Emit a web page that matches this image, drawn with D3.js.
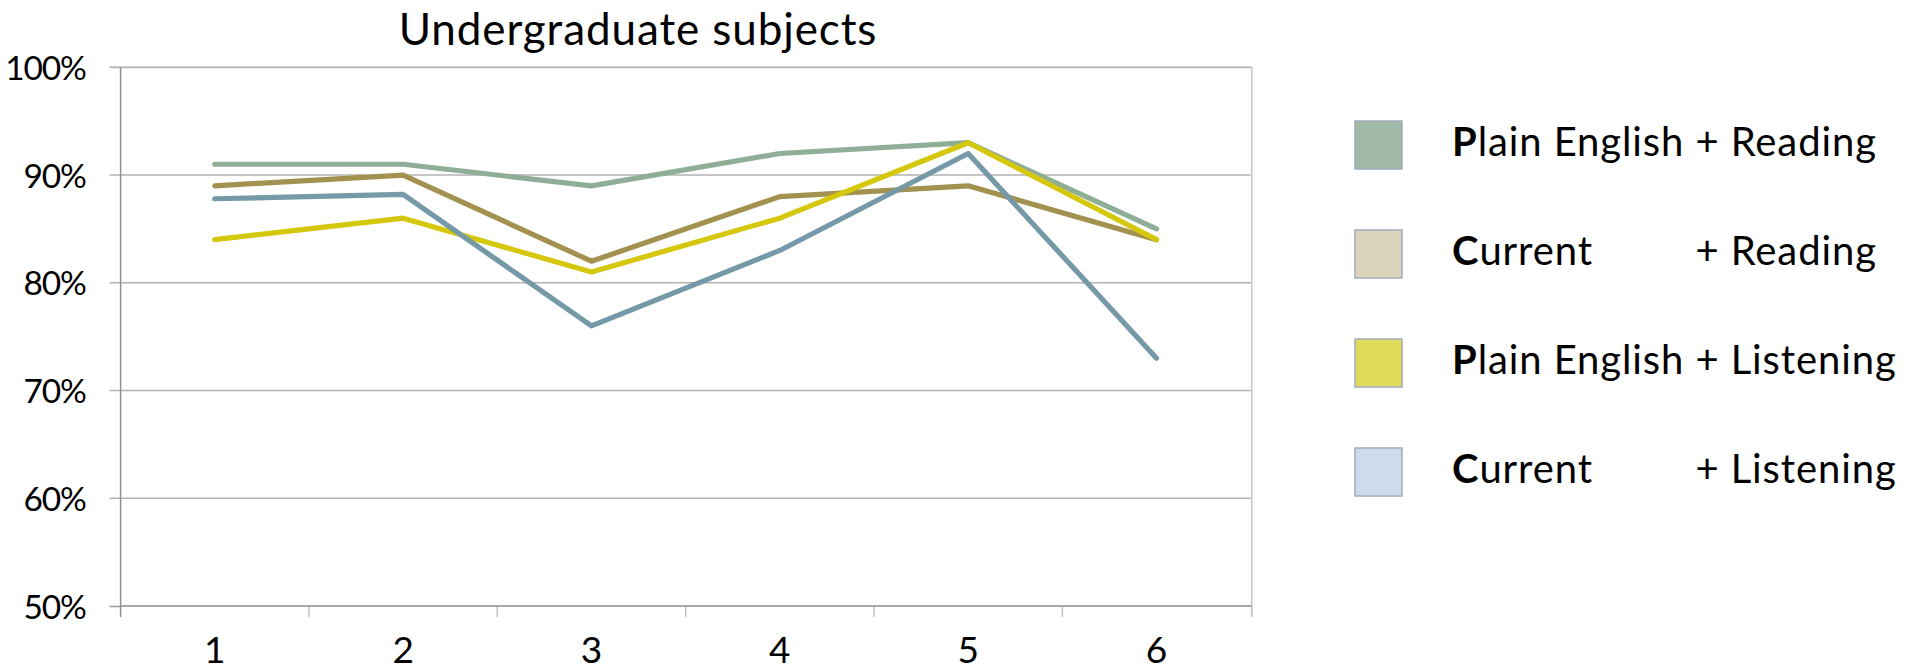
<!DOCTYPE html>
<html>
<head>
<meta charset="utf-8">
<script src="https://cdn.jsdelivr.net/npm/d3@7"></script>
<style>
  html, body { margin: 0; padding: 0; background: #ffffff; }
  svg { display: block; }
  text { font-family: Lato, "Open Sans", sans-serif; fill: #000; }
</style>
</head>
<body>
<svg id="chart" width="1916" height="670"></svg>
<script>
// Categories along the x axis
const categories = ["1", "2", "3", "4", "5", "6"];

// Series values (share correct, 0–1)
const plainReading   = [0.91, 0.91, 0.89, 0.92, 0.93, 0.85];
const currentReading = [0.89, 0.90, 0.82, 0.88, 0.89, 0.84];
const plainListening = [0.84, 0.86, 0.81, 0.86, 0.93, 0.84];
const currentListening = [0.878, 0.882, 0.76, 0.83, 0.92, 0.73];

// Y axis tick values
const yTicks = [0.5, 0.6, 0.7, 0.8, 0.9, 1.0];

// Legend text pieces
const legendInitial = ["P", "C", "P", "C"];
const legendRest = ["lain English", "urrent", "lain English", "urrent"];
const legendMode = ["+ Reading", "+ Reading", "+ Listening", "+ Listening"];

const seriesValues = [plainReading, currentReading, plainListening, currentListening];
const lineColors = ["#8fae97", "#a39150", "#d5c80c", "#7599a6"];
const swatchColors = ["#a0b8a6", "#dbd4bb", "#e0d95a", "#cddbed"];

const svg = d3.select("#chart");

const plot = { left: 120.6, right: 1250.7, top: 67.3, bottom: 606 };

const x = d3.scaleBand().domain(categories).range([plot.left, plot.right]).paddingInner(0).paddingOuter(0);
const y = d3.scaleLinear().domain([0.5, 1.0]).range([plot.bottom, plot.top]);

// Title
svg.append("text")
  .attr("x", 638).attr("y", 45)
  .attr("text-anchor", "middle")
  .style("font-size", "44px")
  .style("letter-spacing", "0.9px")
  .text("Undergraduate subjects");

// Horizontal gridlines with short outside ticks
svg.append("g").selectAll("line")
  .data(yTicks.filter(d => d > 0.5))
  .join("line")
  .attr("x1", plot.left - 11).attr("x2", plot.right)
  .attr("y1", d => y(d)).attr("y2", d => y(d))
  .attr("stroke", d => d === 1.0 ? "#b8b8b8" : "#b3b3b3")
  .attr("stroke-width", d => d === 1.0 ? 2 : 1.5);

// Right border of the plot area
svg.append("line")
  .attr("x1", plot.right + 1).attr("x2", plot.right + 1)
  .attr("y1", plot.top - 1).attr("y2", plot.bottom + 10)
  .attr("stroke", "#c6c6c6").attr("stroke-width", 1.5);

// Category boundary ticks below the x axis
const boundaries = categories.map(c => x(c)).concat([plot.right + 1]);
svg.append("g").selectAll("line")
  .data(boundaries.slice(1))
  .join("line")
  .attr("x1", d => d).attr("x2", d => d)
  .attr("y1", plot.bottom).attr("y2", plot.bottom + 11)
  .attr("stroke", "#c2c2c2").attr("stroke-width", 1.5);

// Y axis (labels + tick at baseline), drawn via d3.axisLeft
const yAxis = d3.axisLeft(y)
  .tickValues(yTicks)
  .tickFormat(d3.format(".0%"))
  .tickSize(11)
  .tickPadding(24);
const gy = svg.append("g")
  .attr("transform", `translate(${plot.left},0)`)
  .call(yAxis);
gy.select(".domain").remove();
gy.selectAll(".tick line").attr("stroke", d => d === 0.5 ? "#999" : "none").attr("stroke-width", 1.5);
gy.selectAll(".tick text")
  .attr("dy", "0.36em")
  .style("font-size", "33.5px")
  .style("letter-spacing", "-1.2px")
  .style("font-family", "Lato, sans-serif")
  .attr("fill", "#000");

// Vertical axis line
svg.append("line")
  .attr("x1", plot.left).attr("x2", plot.left)
  .attr("y1", plot.top).attr("y2", plot.bottom + 11)
  .attr("stroke", "#919191").attr("stroke-width", 1.5);

// X axis baseline
svg.append("line")
  .attr("x1", plot.left).attr("x2", plot.right + 1)
  .attr("y1", plot.bottom).attr("y2", plot.bottom)
  .attr("stroke", "#8c8c8c").attr("stroke-width", 1.6);

// X axis labels via d3.axisBottom
const xAxis = d3.axisBottom(x).tickSize(0).tickPadding(57);
const gx = svg.append("g")
  .attr("transform", `translate(0,${plot.bottom})`)
  .call(xAxis);
gx.select(".domain").remove();
gx.selectAll(".tick text")
  .attr("dy", 0)
  .style("font-size", "37px")
  .style("font-family", "Lato, sans-serif")
  .attr("fill", "#000");

// Series lines
const line = d3.line()
  .x((d, i) => x(categories[i]) + x.bandwidth() / 2)
  .y(d => y(d));

svg.append("g").selectAll("path")
  .data(seriesValues)
  .join("path")
  .attr("d", d => line(d))
  .attr("fill", "none")
  .attr("stroke", (d, i) => lineColors[i])
  .attr("stroke-width", 5.2)
  .attr("stroke-linecap", "round")
  .attr("stroke-linejoin", "round");

// Legend
const legendFont = "40px";
const legendSpacing = "0.9px";
const legendY = d3.scalePoint().domain(d3.range(4)).range([145, 472]);
const lg = svg.append("g");
const rows = lg.selectAll("g").data(d3.range(4)).join("g")
  .attr("transform", i => `translate(0,${legendY(i)})`);

rows.append("rect")
  .attr("x", 1355).attr("y", -24)
  .attr("width", 47).attr("height", 48)
  .attr("fill", i => swatchColors[i])
  .attr("stroke", "#a3acbd").attr("stroke-width", 1.5);

const labels = rows.append("text")
  .attr("x", 1452).attr("y", 11)
  .style("font-size", legendFont)
  .style("letter-spacing", legendSpacing);
labels.append("tspan").style("font-weight", "bold").text(i => legendInitial[i]);
labels.append("tspan").text(i => legendRest[i]);

// Align the "+ …" part of every row after the longest lead text
const probe = svg.append("text").style("font-size", legendFont).style("letter-spacing", legendSpacing)
  .attr("x", -1000).attr("y", -1000);
probe.append("tspan").style("font-weight", "bold").text("P");
probe.append("tspan").text("lain English\u00a0");
const leadWidth = probe.node().getComputedTextLength();
probe.remove();

rows.append("text")
  .attr("x", 1452 + leadWidth).attr("y", 11)
  .style("font-size", legendFont)
  .style("letter-spacing", legendSpacing)
  .text(i => legendMode[i]);
</script>
</body>
</html>
